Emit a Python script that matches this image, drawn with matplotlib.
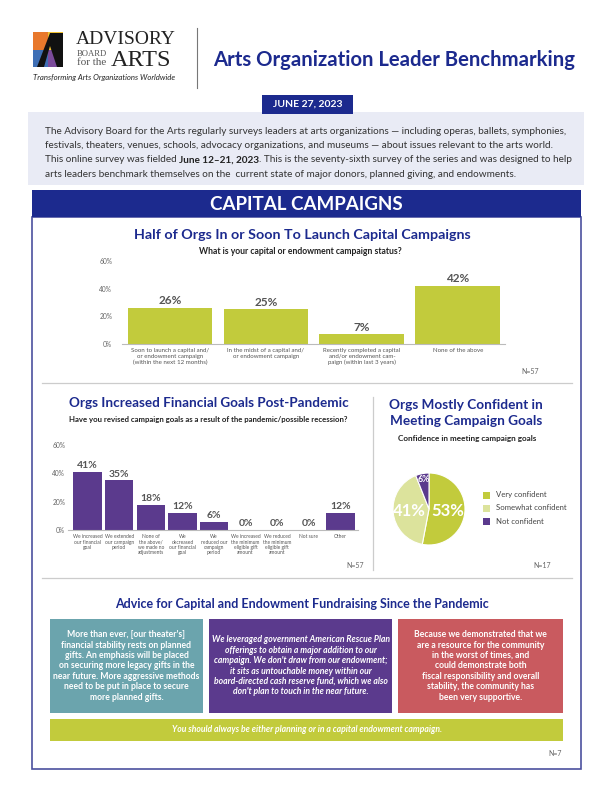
import matplotlib.pyplot as plt
import numpy as np
from matplotlib.patches import Rectangle, Polygon
from matplotlib.lines import Line2D

plt.rcParams["font.family"] = ["Lato", "DejaVu Sans"]

W, H = 612, 792

# data
status_labels = [
    "Soon to launch a capital and/\nor endowment campaign\n(within the next 12 months)",
    "In the midst of a capital and/\nor endowment campaign",
    "Recently completed a capital\nand/or endowment cam-\npaign (within last 3 years)",
    "None of the above",
]
status_values = [26, 25, 7, 42]

revise_labels = [
    "We increased\nour financial\ngoal",
    "We extended\nour campaign\nperiod",
    "None of\nthe above/\nwe made no\nadjustments",
    "We\ndecreased\nour financial\ngoal",
    "We\nreduced our\ncampaign\nperiod",
    "We increased\nthe minimum\neligible gift\namount",
    "We reduced\nthe minimum\neligible gift\namount",
    "Not sure",
    "Other",
]
revise_values = [41, 35, 18, 12, 6, 0, 0, 0, 12]

confidence_labels = ["Very confident", "Somewhat confident", "Not confident"]
confidence_values = [53, 41, 6]

pct_ticks = [0, 20, 40, 60]

advice_quotes = [
    "More than ever, [our theater's]\nfinancial stability rests on planned\ngifts. An emphasis will be placed\n"
    "on securing more legacy gifts in the\nnear future. More aggressive methods\nneed to be put in place to secure\n"
    "more planned gifts.",
    "We leveraged government American Rescue Plan\nofferings to obtain a major addition to our\n"
    "campaign. We don't draw from our endowment;\nit sits as untouchable money within our\n"
    "board-directed cash reserve fund, which we also\ndon't plan to touch in the near future.",
    "Because we demonstrated that we\nare a resource for the community\nin the worst of times, and\n"
    "could demonstrate both\nfiscal responsibility and overall\nstability, the community has\nbeen very supportive.",
]
advice_footer = "You should always be either planning or in a capital endowment campaign."

navy = "#1c2a8e"
panel = "#e9ebf5"
lime = "#c2cb3c"
lime_light = "#dce39c"
purple = "#5b3a8d"
teal = "#6ba4ad"
red = "#c95a5f"
grey = "#555555"

fig = plt.figure(figsize=(6.12, 7.92), dpi=100)


def fx(x):
    return x / W


def fy(y):
    return 1 - y / H


def box(x0, y0, x1, y1, z=-1, **kw):
    r = Rectangle((fx(x0), fy(y1)), (x1 - x0) / W, (y1 - y0) / H, transform=fig.transFigure, zorder=z, **kw)
    fig.add_artist(r)


def txt(x, y, s, **kw):
    return fig.text(fx(x), fy(y), s, **kw)


def hline(x0, x1, y, **kw):
    fig.add_artist(Line2D([fx(x0), fx(x1)], [fy(y), fy(y)], transform=fig.transFigure, **kw))


def vline(x, y0, y1, **kw):
    fig.add_artist(Line2D([fx(x), fx(x)], [fy(y0), fy(y1)], transform=fig.transFigure, **kw))


def axes_px(x0, y0, x1, y1):
    ax = fig.add_axes([fx(x0), fy(y1), (x1 - x0) / W, (y1 - y0) / H])
    ax.set_zorder(2)
    ax.patch.set_alpha(0)
    return ax


# ---- header / logo
logo_cols = [("#e8782c", 33, 32, 48, 50), ("#f2c230", 48, 32, 63, 50), ("#3f6fb5", 33, 50, 48, 67),
             ("#7b4b9b", 48, 50, 63, 67)]
for c, x0, y0, x1, y1 in logo_cols:
    box(x0, y0, x1, y1, facecolor=c, edgecolor="none")
fig.add_artist(Polygon([(fx(37), fy(67)), (fx(50), fy(33)), (fx(63), fy(33)), (fx(63), fy(67)), (fx(57), fy(67)),
                        (fx(50), fy(46)), (fx(44), fy(67))], closed=True, transform=fig.transFigure,
                       facecolor="#111111", edgecolor="none"))
txt(76, 40, "ADVISORY", family="Liberation Serif", fontsize=14, color="#222222", va="center")
txt(77, 54, "BOARD", family="Liberation Serif", fontsize=6.2, color="#555555", va="center")
txt(77, 62.5, "for the", family="Liberation Serif", fontsize=8, color="#555555", va="center")
txt(111, 60, "ARTS", family="Liberation Serif", fontsize=17.5, color="#222222", va="center")
txt(33, 77.5, "Transforming Arts Organizations Worldwide", fontsize=5.6, style="italic", color="#222222",
    va="center")
vline(197, 28, 88, color="#777777", lw=0.8)
txt(394, 60, "Arts Organization Leader Benchmarking", fontsize=14.6, weight="bold", color=navy,
    ha="center", va="center")

# ---- date and intro panel
box(28, 112, 584, 185, facecolor=panel, edgecolor="none")
box(262, 95, 353, 114, facecolor=navy, edgecolor="none")
txt(307.5, 104.5, "JUNE 27, 2023", fontsize=7.5, weight="bold", color="white", ha="center", va="center")

intro_size = 7.2
lines_y = [131, 145.5, 160, 174.5]
txt(45, lines_y[0], "The Advisory Board for the Arts regularly surveys leaders at arts organizations \u2014 including "
    "operas, ballets, symphonies,", fontsize=intro_size, color="#333333", va="center")
txt(45, lines_y[1], "festivals, theaters, venues, schools, advocacy organizations, and museums \u2014 about issues "
    "relevant to the arts world.", fontsize=intro_size, color="#333333", va="center")
renderer = fig.canvas.get_renderer()
t1 = txt(45, lines_y[2], "This online survey was fielded ", fontsize=intro_size, color="#333333", va="center")
x_next = 45 + t1.get_window_extent(renderer).width
t2 = txt(x_next, lines_y[2], "June 12\u201321, 2023", fontsize=intro_size, weight="bold", color="#222222",
         va="center")
x_next += t2.get_window_extent(renderer).width
txt(x_next, lines_y[2], ". This is the seventy-sixth survey of the series and was designed to help",
    fontsize=intro_size, color="#333333", va="center")
txt(45, lines_y[3], "arts leaders benchmark themselves on the  current state of major donors, planned giving, "
    "and endowments.", fontsize=intro_size, color="#333333", va="center")

# ---- section frame
box(32, 217, 581, 769, z=-2, facecolor="white", edgecolor="#4c509e", lw=1.2)
box(32, 190, 581, 217, facecolor=navy, edgecolor="none")
txt(306.5, 204, "CAPITAL CAMPAIGNS", fontsize=13.5, weight="bold", color="white", ha="center", va="center")


def style_bar_axes(ax, lab_size, ypad):
    for s in ["top", "right", "left"]:
        ax.spines[s].set_visible(False)
    ax.spines["bottom"].set_color("#bbbbbb")
    ax.spines["bottom"].set_linewidth(0.8)
    ax.set_ylim(0, 60)
    ax.set_yticks(pct_ticks)
    ax.set_yticklabels([f"{t}%" for t in pct_ticks])
    ax.tick_params(axis="y", length=0, labelsize=4.8, labelcolor="#666666", pad=ypad)
    ax.tick_params(axis="x", length=0, labelsize=lab_size, labelcolor=grey, pad=3)


# ---- chart 1
txt(302, 235, "Half of Orgs In or Soon To Launch Capital Campaigns", fontsize=10.3, weight="bold", color=navy,
    ha="center", va="center")
txt(300, 252, "What is your capital or endowment campaign status?", fontsize=6.2, weight="bold",
    color="#222222", ha="center", va="center")
ax1 = axes_px(122, 261, 505, 344)
x1 = np.arange(len(status_values))
ax1.bar(x1, status_values, width=0.885, color=lime)
ax1.set_xlim(-0.5, 3.49)
style_bar_axes(ax1, 4.4, 7)
ax1.set_xticks(x1)
ax1.set_xticklabels(status_labels, linespacing=1.15)
for i, v in zip(x1, status_values):
    ax1.text(i, v + 1.3, f"{v}%", ha="center", va="bottom", fontsize=8.5, weight="bold", color=grey)
txt(530, 371, "N=57", fontsize=5, color="#666666", ha="center", va="center")
hline(42, 572, 383, color="#cccccc", lw=0.9)

# ---- chart 2
txt(69, 403, "Orgs Increased Financial Goals Post-Pandemic", fontsize=9.7, weight="bold", color=navy,
    va="center")
txt(69, 419, "Have you revised campaign goals as a result of the pandemic/possible recession?", fontsize=5.6,
    weight="bold", color="#222222", va="center")
ax2 = axes_px(68, 445, 358, 530)
x2 = np.arange(len(revise_values))
ax2.bar(x2, revise_values, width=0.9, color=purple)
ax2.set_xlim(-0.62, 8.56)
style_bar_axes(ax2, 3.5, 2)
ax2.set_xticks(x2)
ax2.set_xticklabels(revise_labels, linespacing=1.1)
for i, v in zip(x2, revise_values):
    ax2.text(i, v + 1.3, f"{v}%", ha="center", va="bottom", fontsize=7.5, weight="bold", color=grey)
txt(355, 566, "N=57", fontsize=5, color="#666666", ha="center", va="center")
vline(373, 397, 570, color="#cccccc", lw=0.9)

# ---- chart 3 (pie)
txt(466, 405, "Orgs Mostly Confident in", fontsize=9.8, weight="bold", color=navy, ha="center", va="center")
txt(466, 421, "Meeting Campaign Goals", fontsize=9.8, weight="bold", color=navy, ha="center", va="center")
txt(467, 439, "Confidence in meeting campaign goals", fontsize=5.9, weight="bold", color="#222222",
    ha="center", va="center")
ax3 = axes_px(384, 464, 474, 554)
pie_cols = [lime, lime_light, purple]
wedges, _ = ax3.pie(confidence_values, colors=pie_cols, startangle=90, counterclock=False, radius=1,
                    wedgeprops=dict(edgecolor="white", linewidth=0.8))
ax3.set_aspect("equal")
pie_lab = [(0.52, 12), (0.56, 12), (0.84, 6.3)]
for w, v, (r, fs) in zip(wedges, confidence_values, pie_lab):
    ang = np.deg2rad((w.theta1 + w.theta2) / 2)
    ax3.text(r * np.cos(ang), r * np.sin(ang), f"{v}%", ha="center", va="center", fontsize=fs,
             weight="bold", color="white")
for k, (lab, c) in enumerate(zip(confidence_labels, pie_cols)):
    yy = 495 + k * 13
    box(483, yy - 3.5, 490, yy + 3.5, facecolor=c, edgecolor="none")
    txt(496, yy, lab, fontsize=5.6, color="#444444", va="center")
txt(542, 566, "N=17", fontsize=5, color="#666666", ha="center", va="center")
hline(42, 572, 578, color="#cccccc", lw=0.9)

# ---- advice
txt(302, 604, "Advice for Capital and Endowment Fundraising Since the Pandemic", fontsize=9, weight="bold",
    color=navy, ha="center", va="center")
adv_boxes = [(50, 203, teal, "normal"), (209, 392, purple, "italic"), (398, 563, red, "normal")]
for (x0, x1b, c, st), q in zip(adv_boxes, advice_quotes):
    box(x0, 619, x1b, 713, facecolor=c, edgecolor="none")
    txt((x0 + x1b) / 2, 666, q, fontsize=6.2, weight="bold", style=st, color="white", ha="center",
        va="center", linespacing=1.2)
box(50, 719, 563, 741, facecolor=lime, edgecolor="none")
txt(306.5, 730, advice_footer, fontsize=6.2, weight="bold", style="italic", color="white", ha="center",
    va="center")
txt(555, 753, "N=7", fontsize=5, color="#666666", ha="center", va="center")

fig.savefig("out.png", dpi=100)
